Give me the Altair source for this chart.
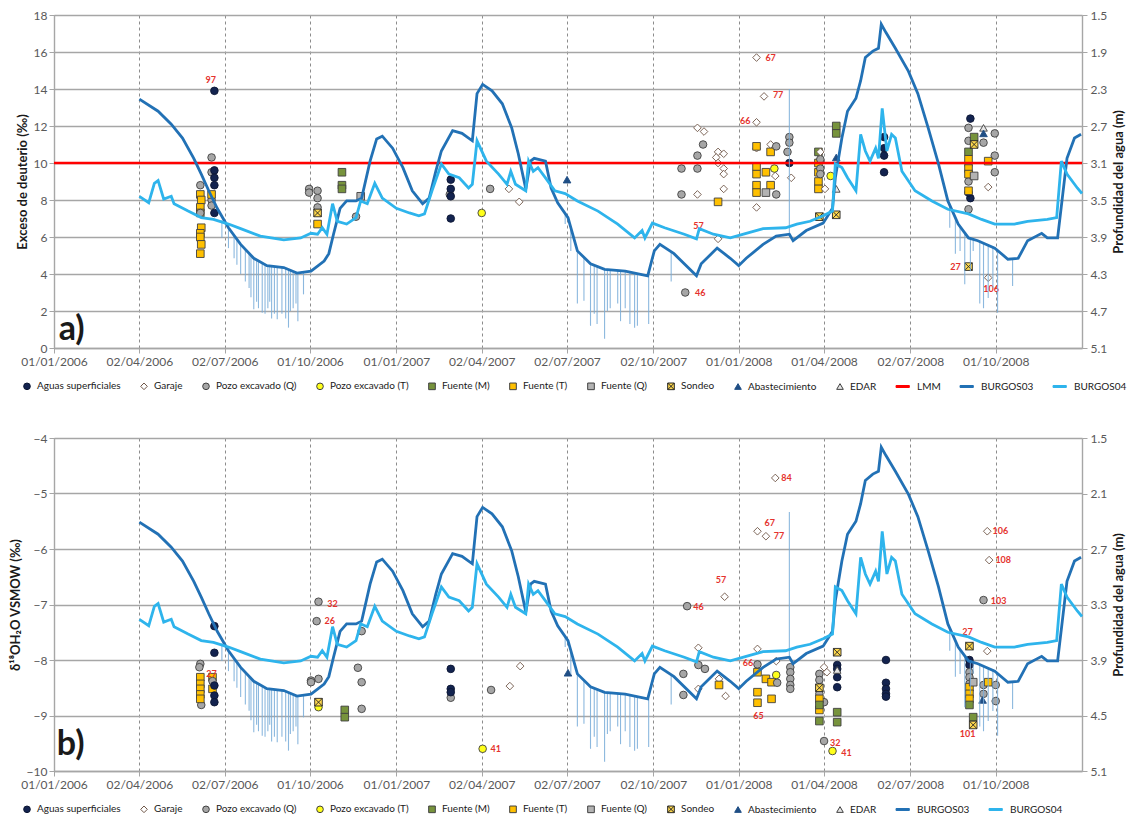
import altair as alt
import pandas as pd

# ---------------- categorías ----------------
TIPOS_A = ["Aguas superficiales", "Garaje", "Pozo excavado (Q)", "Pozo excavado (T)",
           "Fuente (M)", "Fuente (T)", "Fuente (Q)", "Sondeo", "Abastecimiento", "EDAR",
           "LMM", "BURGOS03", "BURGOS04"]
TIPOS_B = [t for t in TIPOS_A if t != "LMM"]
CODIGO = {"AS": "Aguas superficiales", "G": "Garaje", "PQ": "Pozo excavado (Q)",
          "PT": "Pozo excavado (T)", "FM": "Fuente (M)", "FT": "Fuente (T)",
          "FQ": "Fuente (Q)", "S": "Sondeo", "AB": "Abastecimiento", "ED": "EDAR"}

TICKS_X = ["01/01/2006", "02/04/2006", "02/07/2006", "01/10/2006", "01/01/2007",
           "02/04/2007", "02/07/2007", "02/10/2007", "01/01/2008", "01/04/2008",
           "02/07/2008", "01/10/2008"]

# ---------------- piezómetros (profundidad del agua, m) ----------------
B03_FECHA = ["2006-04-02", "2006-04-22", "2006-05-06", "2006-05-18", "2006-05-30", "2006-06-07",
             "2006-06-15", "2006-06-24", "2006-07-06", "2006-07-19", "2006-08-02", "2006-08-16",
             "2006-09-03", "2006-09-17", "2006-10-02", "2006-10-16", "2006-10-21", "2006-10-26",
             "2006-11-02", "2006-11-09", "2006-11-19", "2006-11-25", "2006-12-04", "2006-12-11",
             "2006-12-17", "2006-12-28", "2007-01-08", "2007-01-18", "2007-01-29", "2007-02-05",
             "2007-02-12", "2007-02-18", "2007-03-02", "2007-03-12", "2007-03-23", "2007-03-28",
             "2007-04-03", "2007-04-13", "2007-04-24", "2007-05-04", "2007-05-11", "2007-05-19",
             "2007-05-24", "2007-05-28", "2007-06-09", "2007-06-15", "2007-06-22", "2007-07-03",
             "2007-07-13", "2007-07-27", "2007-08-11", "2007-09-02", "2007-09-26", "2007-10-03",
             "2007-10-09", "2007-10-24", "2007-11-17", "2007-11-22", "2007-12-09", "2007-12-23",
             "2008-01-01", "2008-01-09", "2008-01-27", "2008-02-10", "2008-02-24", "2008-02-28",
             "2008-03-13", "2008-03-31", "2008-04-10", "2008-04-13", "2008-04-20", "2008-04-26",
             "2008-05-05", "2008-05-10", "2008-05-15", "2008-05-23", "2008-05-29", "2008-06-01",
             "2008-06-06", "2008-06-16", "2008-06-30", "2008-07-10", "2008-07-21", "2008-08-01",
             "2008-08-11", "2008-08-22", "2008-09-02", "2008-09-12", "2008-09-30", "2008-10-14",
             "2008-10-25", "2008-11-04", "2008-11-19", "2008-11-25", "2008-12-06", "2008-12-11",
             "2008-12-16", "2008-12-24", "2008-12-31"]
B03_PROF = [2.41, 2.54, 2.68, 2.83, 3.05, 3.22,
            3.40, 3.59, 3.80, 3.98, 4.13, 4.21,
            4.23, 4.29, 4.27, 4.16, 4.08, 3.87,
            3.59, 3.51, 3.51, 3.48, 3.08, 2.84,
            2.81, 2.94, 3.15, 3.40, 3.54, 3.48,
            3.19, 2.97, 2.75, 2.78, 2.86, 2.35,
            2.25, 2.32, 2.46, 2.72, 3.00, 3.38,
            3.08, 3.05, 3.08, 3.37, 3.53, 3.69,
            4.05, 4.19, 4.25, 4.27, 4.32, 4.05,
            3.98, 4.08, 4.32, 4.19, 4.02, 4.13,
            4.21, 4.13, 3.98, 3.89, 3.87, 3.94,
            3.83, 3.75, 3.59, 3.26, 2.83, 2.54,
            2.40, 2.21, 1.96, 1.89, 1.86, 1.60,
            1.69, 1.86, 2.11, 2.35, 2.72, 3.11,
            3.51, 3.76, 3.91, 3.94, 4.02, 4.14,
            4.13, 3.94, 3.86, 3.91, 3.91, 3.48,
            3.05, 2.83, 2.79]

B04_FECHA = ["2006-04-02", "2006-04-12", "2006-04-18", "2006-04-22", "2006-04-28", "2006-05-06",
             "2006-05-09", "2006-05-24", "2006-06-07", "2006-06-20", "2006-07-06", "2006-07-19",
             "2006-08-09", "2006-09-03", "2006-09-21", "2006-10-02", "2006-10-09", "2006-10-14",
             "2006-10-19", "2006-10-25", "2006-10-30", "2006-11-09", "2006-11-19", "2006-11-24",
             "2006-12-01", "2006-12-09", "2006-12-17", "2007-01-01", "2007-01-15", "2007-01-25",
             "2007-01-31", "2007-02-08", "2007-02-18", "2007-02-26", "2007-03-09", "2007-03-19",
             "2007-03-23", "2007-03-28", "2007-04-07", "2007-04-20", "2007-04-29", "2007-05-03",
             "2007-05-08", "2007-05-19", "2007-05-22", "2007-05-27", "2007-06-01", "2007-06-09",
             "2007-06-19", "2007-06-30", "2007-07-13", "2007-08-04", "2007-08-25", "2007-09-12",
             "2007-09-20", "2007-09-23", "2007-10-01", "2007-10-14", "2007-11-04", "2007-11-17",
             "2007-11-20", "2007-12-05", "2007-12-23", "2008-01-09", "2008-01-27", "2008-02-20",
             "2008-03-03", "2008-03-17", "2008-03-31", "2008-04-10", "2008-04-13", "2008-04-20",
             "2008-04-26", "2008-05-05", "2008-05-10", "2008-05-15", "2008-05-20", "2008-05-26",
             "2008-05-29", "2008-06-02", "2008-06-07", "2008-06-12", "2008-06-16", "2008-06-23",
             "2008-07-07", "2008-07-25", "2008-08-11", "2008-09-02", "2008-09-16", "2008-09-30",
             "2008-10-21", "2008-11-04", "2008-11-25", "2008-12-05", "2008-12-10", "2008-12-16",
             "2008-12-27", "2009-01-01"]
B04_PROF = [3.46, 3.53, 3.32, 3.29, 3.49, 3.46,
            3.54, 3.62, 3.69, 3.71, 3.76, 3.81,
            3.89, 3.93, 3.91, 3.86, 3.87, 3.80,
            3.87, 3.54, 3.73, 3.76, 3.69, 3.51,
            3.54, 3.32, 3.48, 3.59, 3.64, 3.67,
            3.65, 3.40, 3.11, 3.22, 3.26, 3.37,
            3.33, 2.86, 3.08, 3.22, 3.33, 3.19,
            3.33, 3.40, 3.08, 3.19, 3.15, 3.26,
            3.40, 3.43, 3.51, 3.62, 3.76, 3.91,
            3.83, 3.91, 3.75, 3.80, 3.87, 3.92,
            3.81, 3.87, 3.91, 3.86, 3.81, 3.80,
            3.76, 3.73, 3.67, 3.62, 3.11, 3.15,
            3.26, 3.40, 2.79, 2.97, 3.08, 2.94,
            3.05, 2.51, 2.97, 2.79, 2.83, 3.19,
            3.40, 3.51, 3.60, 3.65, 3.71, 3.76,
            3.76, 3.73, 3.71, 3.69, 3.08, 3.22,
            3.37, 3.43]

# picos de bombeo en BURGOS03 (fecha, nivel base, nivel alcanzado)
SPK_FECHA = ["2006-06-29", "2006-07-06", "2006-07-12", "2006-07-15", "2006-07-19", "2006-07-24",
             "2006-07-28", "2006-07-30", "2006-08-02", "2006-08-05", "2006-08-07", "2006-08-11",
             "2006-08-14", "2006-08-17", "2006-08-19", "2006-08-21", "2006-08-24", "2006-08-27",
             "2006-09-01", "2006-09-05", "2006-09-08", "2006-09-10", "2006-09-13", "2006-09-16",
             "2006-09-18", "2006-09-24",
             "2007-06-30", "2007-07-06", "2007-07-13", "2007-07-20", "2007-07-27", "2007-07-31",
             "2007-08-03", "2007-08-11", "2007-08-14", "2007-08-17", "2007-08-25", "2007-08-28",
             "2007-09-02", "2007-09-07", "2007-09-12", "2007-09-15", "2007-09-27", "2007-10-21",
             "2008-02-24",
             "2008-08-13", "2008-08-19", "2008-08-24", "2008-08-29", "2008-09-04", "2008-09-07",
             "2008-09-14", "2008-09-18", "2008-09-23", "2008-09-28", "2008-10-03", "2008-10-19"]
SPK_BASE = [3.72, 3.80, 3.88, 3.93, 3.98, 4.03,
            4.07, 4.10, 4.13, 4.15, 4.16, 4.18,
            4.20, 4.21, 4.21, 4.21, 4.22, 4.22,
            4.23, 4.24, 4.25, 4.26, 4.27, 4.29,
            4.29, 4.28,
            3.65, 3.80, 4.05, 4.12, 4.19, 4.20,
            4.21, 4.25, 4.25, 4.25, 4.26, 4.26,
            4.27, 4.28, 4.29, 4.30, 4.32, 4.06,
            3.87,
            3.56, 3.68, 3.78, 3.85, 3.91, 3.92,
            3.94, 3.96, 3.98, 4.00, 4.04, 4.14]
SPK_FONDO = [3.91, 4.02, 4.13, 4.20, 4.30, 4.38,
             4.45, 4.55, 4.68, 4.60, 4.67, 4.72,
             4.73, 4.67, 4.60, 4.78, 4.73, 4.79,
             4.73, 4.78, 4.88, 4.70, 4.67, 4.62,
             4.81, 4.52,
             3.76, 4.05, 4.62, 4.59, 4.86, 4.73,
             4.84, 5.00, 4.70, 4.67, 4.62, 4.81,
             4.67, 4.84, 4.88, 4.86, 4.84, 4.38,
             2.30,
             3.80, 4.08, 4.05, 4.41, 4.27, 4.05,
             4.62, 4.67, 4.56, 4.45, 4.72, 4.43]

LMM_FECHA = ["2006-01-01", "2009-01-01"]
LMM_VALOR = [10, 10]

# ---------------- panel a) exceso de deuterio ----------------
A_FECHA = ["2006-06-06", "2006-06-07", "2006-06-06", "2006-06-06", "2006-06-07", "2006-06-06",
           "2006-06-06", "2006-06-07", "2006-06-06", "2006-06-06", "2006-06-06",
           "2006-06-18", "2006-06-18", "2006-06-18", "2006-06-18", "2006-06-18",
           "2006-06-21", "2006-06-21", "2006-06-21", "2006-06-21", "2006-06-21",
           "2006-09-30", "2006-09-30", "2006-10-09", "2006-10-09", "2006-10-09", "2006-10-09",
           "2006-10-09", "2006-11-04", "2006-11-04", "2006-11-04", "2006-11-19", "2006-11-24",
           "2007-02-27", "2007-02-28", "2007-02-28", "2007-02-28", "2007-02-28",
           "2007-04-02", "2007-04-11", "2007-05-01", "2007-05-12", "2007-07-02",
           "2007-11-01", "2007-11-01", "2007-11-05", "2007-11-18", "2007-11-18", "2007-11-24",
           "2007-11-18", "2007-11-18", "2007-11-25", "2007-12-10", "2007-12-08", "2007-12-10",
           "2007-12-16", "2007-12-16", "2007-12-16", "2007-12-16", "2007-12-10", "2007-12-10",
           "2008-01-20", "2008-01-28", "2008-01-20", "2008-01-20", "2008-01-20", "2008-02-04",
           "2008-02-09", "2008-02-26",
           "2008-01-20", "2008-01-20", "2008-01-20", "2008-01-20", "2008-01-20", "2008-01-30",
           "2008-02-04", "2008-02-04", "2008-01-30",
           "2008-02-10", "2008-02-10", "2008-02-24", "2008-02-24", "2008-02-22", "2008-02-08",
           "2008-02-24",
           "2008-03-26", "2008-03-26", "2008-03-26", "2008-03-26", "2008-03-26",
           "2008-03-28", "2008-03-28", "2008-03-28", "2008-03-28", "2008-04-02", "2008-04-08",
           "2008-03-27", "2008-04-14", "2008-04-14", "2008-04-14", "2008-04-14", "2008-04-14",
           "2008-06-04", "2008-06-04", "2008-06-04", "2008-06-04",
           "2008-09-04", "2008-09-04", "2008-09-02", "2008-09-02", "2008-09-02", "2008-09-02",
           "2008-09-02", "2008-09-02", "2008-09-08", "2008-09-02", "2008-09-02", "2008-09-02",
           "2008-09-02", "2008-09-02", "2008-09-08", "2008-09-08", "2008-09-02",
           "2008-09-18", "2008-09-18", "2008-09-18", "2008-09-30", "2008-09-30", "2008-09-30",
           "2008-09-23", "2008-09-23", "2008-09-23"]
A_TIPO = ["FT", "FT", "FT", "FT", "FT", "FT",
          "FT", "FT", "FT", "PQ", "PQ",
          "PQ", "PQ", "PQ", "PQ", "FT",
          "AS", "AS", "AS", "AS", "AS",
          "PQ", "PQ", "PQ", "PQ", "PQ", "S",
          "FT", "FM", "FM", "FM", "PQ", "FQ",
          "PQ", "AS", "AS", "AS", "AS",
          "PT", "PQ", "G", "G", "AB",
          "PQ", "PQ", "PQ", "PQ", "PQ", "PQ",
          "G", "G", "G", "G", "G", "G",
          "G", "G", "G", "G", "G", "FT",
          "G", "G", "G", "G", "G", "G",
          "G", "G",
          "FT", "FT", "FT", "FT", "FT", "FT",
          "FT", "FT", "FQ",
          "PQ", "PQ", "PQ", "PQ", "PQ", "PT",
          "AS",
          "FM", "FT", "FT", "FT", "FT",
          "PQ", "PQ", "PQ", "G", "G", "PT",
          "S", "S", "FM", "FM", "AB", "ED",
          "AS", "AS", "AS", "AS",
          "AS", "AS", "AS", "PQ", "PQ", "PQ",
          "PQ", "PQ", "FM", "FM", "FT", "FT",
          "FT", "FT", "FQ", "S", "S",
          "ED", "AB", "PQ", "PQ", "PQ", "PQ",
          "FT", "G", "G"]
A_VALOR = [8.3, 8.0, 7.6, 7.3, 6.5, 6.2,
           6.0, 5.6, 5.1, 8.8, 7.3,
           10.3, 9.5, 8.0, 7.7, 8.3,
           13.9, 9.6, 9.2, 8.8, 7.3,
           8.6, 8.4, 8.5, 8.1, 7.6, 7.3,
           6.7, 9.5, 8.8, 8.6, 7.1, 8.2,
           8.3, 9.1, 8.6, 8.2, 7.0,
           7.3, 8.6, 8.6, 7.9, 9.1,
           9.7, 8.3, 3.0, 10.4, 9.7, 11.0,
           11.9, 8.3, 11.7, 10.6, 10.3, 10.0,
           10.5, 9.7, 9.4, 8.6, 5.9, 7.9,
           15.7, 13.6, 12.2, 10.8, 7.6, 11.0,
           9.3, 9.2,
           10.9, 9.8, 9.4, 8.8, 8.4, 9.5,
           10.6, 8.8, 8.4,
           10.9, 8.3, 11.4, 11.1, 10.6, 9.7,
           10.0,
           10.6, 10.0, 9.5, 9.0, 8.6,
           10.2, 9.7, 9.4, 10.6, 8.6, 9.3,
           7.1, 7.2, 12.0, 11.6, 10.3, 8.6,
           11.4, 10.8, 10.4, 9.5,
           12.4, 8.1, 8.4, 11.9, 11.2, 9.9,
           9.0, 7.5, 11.4, 10.6, 10.2, 9.7,
           9.4, 8.5, 9.3, 11.0, 4.4,
           11.9, 11.6, 11.1, 11.6, 10.4, 9.5,
           10.1, 8.7, 3.8]

A_ETQ_TEXTO = ["97", "67", "77", "66", "57", "46", "27", "106"]
A_ETQ_FECHA = ["2006-06-17", "2008-02-04", "2008-02-12", "2008-01-08", "2007-11-19",
               "2007-11-21", "2008-08-19", "2008-09-26"]
A_ETQ_VALOR = [14.5, 15.7, 13.7, 12.25, 6.6, 3.0, 4.4, 3.2]

# ---------------- panel b) δ18O ----------------
B_FECHA = ["2006-06-06", "2006-06-05", "2006-06-07", "2006-06-06", "2006-06-06", "2006-06-06",
           "2006-06-06", "2006-06-06", "2006-06-19", "2006-06-19", "2006-06-19",
           "2006-06-21", "2006-06-21", "2006-06-21", "2006-06-21", "2006-06-21",
           "2006-10-10", "2006-10-08", "2006-10-10", "2006-10-02", "2006-10-02", "2006-10-10",
           "2006-10-10", "2006-11-07", "2006-11-07", "2006-11-21", "2006-11-25", "2006-11-25",
           "2006-11-25",
           "2007-02-28", "2007-02-28", "2007-02-28", "2007-02-28", "2007-04-03", "2007-04-12",
           "2007-05-02", "2007-05-13", "2007-07-03",
           "2007-11-07", "2007-11-03", "2007-11-03", "2007-11-19", "2007-11-26", "2007-11-19",
           "2007-11-19", "2007-12-17", "2007-12-11", "2007-12-18", "2007-12-11",
           "2008-02-09", "2008-01-21", "2008-01-30", "2008-01-21", "2008-02-10", "2008-01-21",
           "2008-01-21", "2008-01-21", "2008-01-21", "2008-01-30", "2008-02-05", "2008-02-05",
           "2008-02-10", "2008-02-11", "2008-02-25", "2008-02-25", "2008-02-25", "2008-02-25",
           "2008-02-25",
           "2008-03-27", "2008-03-27", "2008-03-27", "2008-04-01", "2008-04-01", "2008-04-04",
           "2008-03-27", "2008-03-27", "2008-03-27", "2008-03-27", "2008-03-27", "2008-04-01",
           "2008-04-10", "2008-04-15", "2008-04-15", "2008-04-15", "2008-04-15", "2008-04-15",
           "2008-04-15", "2008-04-15", "2008-04-15",
           "2008-06-06", "2008-06-06", "2008-06-06", "2008-06-06", "2008-06-06",
           "2008-09-03", "2008-09-03", "2008-09-03", "2008-09-03", "2008-09-03", "2008-09-03",
           "2008-09-03", "2008-09-03", "2008-09-03", "2008-09-03", "2008-09-07", "2008-09-07",
           "2008-09-07", "2008-09-18", "2008-09-18", "2008-10-01", "2008-10-01", "2008-09-17",
           "2008-09-23", "2008-09-22", "2008-09-24", "2008-09-22", "2008-09-18"]
B_TIPO = ["PQ", "PQ", "PQ", "FT", "FT", "FT",
          "FT", "FT", "FT", "FT", "PQ",
          "AS", "AS", "AS", "AS", "AS",
          "PQ", "PQ", "PQ", "PQ", "PQ", "PT",
          "S", "FM", "FM", "PQ", "PQ", "PQ",
          "PQ",
          "PQ", "AS", "AS", "AS", "PT", "PQ",
          "G", "G", "AB",
          "PQ", "PQ", "PQ", "PQ", "PQ", "G",
          "G", "G", "G", "G", "FT",
          "G", "G", "G", "G", "G", "PQ",
          "FT", "FT", "FT", "FT", "FT", "FT",
          "PT", "PQ", "PQ", "PQ", "PQ", "PQ",
          "PQ",
          "PQ", "PQ", "PQ", "PQ", "G", "G",
          "S", "FT", "FT", "FM", "FM", "PQ",
          "PT", "S", "AS", "AS", "AS", "AS",
          "ED", "FM", "FM",
          "AS", "AS", "AS", "AS", "AS",
          "S", "AS", "AS", "PQ", "PQ", "PQ",
          "FT", "FT", "FT", "FM", "FM", "S",
          "FQ", "PQ", "PQ", "PQ", "PQ", "AB",
          "FT", "G", "G", "G", "PQ"]
B_VALOR = [-8.07, -8.13, -8.81, -8.31, -8.43, -8.52,
           -8.62, -8.70, -8.31, -8.52, -8.38,
           -7.39, -7.87, -8.46, -8.64, -8.76,
           -6.95, -7.30, -8.34, -8.37, -8.40, -8.85,
           -8.76, -8.90, -9.03, -8.14, -7.48, -8.40,
           -8.88,
           -8.68, -8.16, -8.52, -8.58, -9.60, -8.54,
           -8.47, -8.11, -8.23,
           -7.03, -8.25, -8.63, -8.09, -8.16, -7.78,
           -8.52, -6.86, -8.34, -8.65, -8.45,
           -4.72, -5.68, -5.77, -7.80, -8.02, -8.08,
           -8.22, -8.58, -8.77, -8.34, -8.40, -8.70,
           -8.27, -8.41, -8.13, -8.22, -8.34, -8.45,
           -8.52,
           -8.25, -8.36, -8.61, -8.76, -8.13, -8.22,
           -8.50, -8.70, -8.90, -8.81, -9.10, -9.46,
           -9.64, -7.86, -8.09, -8.16, -8.31, -8.49,
           -8.18, -8.94, -9.12,
           -8.00, -8.41, -8.52, -8.61, -8.66,
           -7.75, -8.00, -8.09, -8.22, -8.31, -8.43,
           -8.49, -8.61, -8.70, -8.81, -9.03, -9.17,
           -8.40, -8.45, -8.61, -8.45, -8.74, -8.72,
           -8.40, -5.68, -6.20, -7.84, -6.92]

B_ETQ_TEXTO = ["27", "32", "26", "41", "46", "57", "67", "77", "84", "66", "65", "32", "41",
               "27", "101", "106", "108", "103"]
B_ETQ_FECHA = ["2006-06-18", "2006-10-25", "2006-10-22", "2007-04-17", "2007-11-19",
               "2007-12-13", "2008-02-03", "2008-02-13", "2008-02-21", "2008-01-11",
               "2008-01-22", "2008-04-13", "2008-04-25", "2008-09-01", "2008-09-01",
               "2008-10-06", "2008-10-09", "2008-10-04"]
B_ETQ_VALOR = [-8.25, -6.99, -7.30, -9.60, -7.04, -6.55, -5.53, -5.77, -4.72, -8.05,
               -9.01, -9.50, -9.68, -7.50, -9.33, -5.68, -6.20, -6.94]

PANEL_TEXTO = ["a)", "b)"]
PANEL_FECHA = ["2006-01-06", "2006-01-04"]
PANEL_VALOR = [0.45, -9.72]

# ---------------- estilos ----------------
RELLENO = {"Aguas superficiales": "#13234f", "Garaje": "#ffffff", "Pozo excavado (Q)": "#a6a6a6",
           "Pozo excavado (T)": "#ffff1a", "Fuente (M)": "#77933c", "Fuente (T)": "#ffc000",
           "Fuente (Q)": "#b3b3b3", "Sondeo": "#ffd84d", "Abastecimiento": "#1f4e85",
           "EDAR": "#e6e6e6", "LMM": "#ff0000", "BURGOS03": "#2271b5", "BURGOS04": "#2eb4ec"}
BORDE = {"Aguas superficiales": "#0c1633", "Garaje": "#6e5546", "Pozo excavado (Q)": "#404040",
         "Pozo excavado (T)": "#404040", "Fuente (M)": "#404040", "Fuente (T)": "#404040",
         "Fuente (Q)": "#404040", "Sondeo": "#262626", "Abastecimiento": "#1f4e85",
         "EDAR": "#404040", "LMM": "#ff0000", "BURGOS03": "#2271b5", "BURGOS04": "#2eb4ec"}
LINEA = "M-3.3,-0.3H0.7V0.3H-3.3Z"
FORMA = {"Aguas superficiales": "circle", "Garaje": "diamond", "Pozo excavado (Q)": "circle",
         "Pozo excavado (T)": "circle", "Fuente (M)": "square", "Fuente (T)": "square",
         "Fuente (Q)": "square", "Sondeo": "M-1,-1H1V1H-1ZM-1,-1L1,1M1,-1L-1,1",
         "Abastecimiento": "triangle-up", "EDAR": "triangle-up",
         "LMM": LINEA, "BURGOS03": LINEA, "BURGOS04": LINEA}

FONT = "Lato"
GRIS = "#a6a6a6"
ANCHO = 1028
ALTO = 333


def fechas(lista):
    return pd.to_datetime(pd.Series(lista))


def dt(s):
    return alt.DateTime(year=int(s[6:]), month=int(s[3:5]), date=int(s[:2]))


def eje_x():
    return alt.X("fecha:T",
                 scale=alt.Scale(domain=[alt.DateTime(year=2006, month=1, date=1),
                                         alt.DateTime(year=2009, month=1, date=1)]),
                 axis=alt.Axis(values=[dt(s) for s in TICKS_X], format="%d/%m/%Y", title=None,
                               grid=True, gridDash=[3, 3], gridColor="#8c8c8c", gridWidth=1,
                               labelAngle=0, labelFontSize=12, labelColor="#595959",
                               tickColor=GRIS, tickSize=5, domainColor=GRIS, domainWidth=1.4,
                               labelOverlap=False, labelFlush=False, labelPadding=3,
                               labelFont=FONT))


def eje_izq(dominio, valores, titulo):
    return alt.Y("valor:Q", scale=alt.Scale(domain=dominio, nice=False, zero=False),
                 axis=alt.Axis(orient="left", values=valores, title=titulo, grid=True,
                               gridColor=GRIS, gridWidth=1.4, labelFontSize=12,
                               labelColor="#595959", tickColor=GRIS, tickSize=5,
                               domainColor=GRIS, domainWidth=1.4, titleFontSize=13,
                               titleFontWeight="bold", titleColor="#1a1a1a", titlePadding=4,
                               labelPadding=2, labelFont=FONT, titleFont=FONT))


def eje_der(valores):
    return alt.Y("prof:Q", scale=alt.Scale(domain=[1.5, 5.1], reverse=True, nice=False, zero=False),
                 axis=alt.Axis(orient="right", values=valores, format=".1f",
                               title="Profundidad del agua (m)", titleAngle=270,
                               titleBaseline="middle", titleAlign="center",
                               titleX=36, titleY=ALTO / 2, grid=False, labelFontSize=12,
                               labelColor="#595959", tickColor=GRIS, tickSize=5,
                               domainColor=GRIS, domainWidth=1.4, titleFontSize=13,
                               titleFontWeight="bold", titleColor="#1a1a1a",
                               labelPadding=3, labelFont=FONT, titleFont=FONT))


def escalas(tipos):
    return (alt.Scale(domain=tipos, range=[RELLENO[t] for t in tipos]),
            alt.Scale(domain=tipos, range=[BORDE[t] for t in tipos]),
            alt.Scale(domain=tipos, range=[FORMA[t] for t in tipos]))


def leyenda(n):
    return alt.Legend(title=None, orient="none", legendX=-32, legendY=366,
                      direction="horizontal", columns=n, columnPadding=17,
                      labelFontSize=10, labelColor="#1a1a1a", labelFont=FONT,
                      symbolSize=44, symbolStrokeWidth=1, labelOffset=5, padding=0,
                      symbolOpacity=1)


df_b03 = pd.DataFrame({"fecha": fechas(B03_FECHA), "prof": B03_PROF, "tipo": "BURGOS03"})
df_b04 = pd.DataFrame({"fecha": fechas(B04_FECHA), "prof": B04_PROF, "tipo": "BURGOS04"})
df_spk = pd.DataFrame({"fecha": fechas(SPK_FECHA), "prof": SPK_BASE, "fondo": SPK_FONDO})
df_lmm = pd.DataFrame({"fecha": fechas(LMM_FECHA), "valor": LMM_VALOR, "tipo": "LMM"})


def panel(tipos, f, t, v, ef, et, ev, letra_idx, dominio, valores, titulo, valores_der, lmm):
    sf, ss, sh = escalas(tipos)
    leg = leyenda(len(tipos))
    pts = pd.DataFrame({"fecha": fechas(f), "tipo": [CODIGO[c] for c in t], "valor": v})
    etq = pd.DataFrame({"fecha": fechas(ef), "texto": et, "valor": ev})
    let = pd.DataFrame({"fecha": fechas([PANEL_FECHA[letra_idx]]),
                        "texto": [PANEL_TEXTO[letra_idx]], "valor": [PANEL_VALOR[letra_idx]]})
    X = eje_x()
    Yl = eje_izq(dominio, valores, titulo)
    Yr = eje_der(valores_der)

    capa_pts = alt.Chart(pts).mark_point(filled=True, size=58, strokeWidth=0.9, opacity=1).encode(
        x=X, y=Yl,
        fill=alt.Fill("tipo:N", scale=sf, legend=leg),
        stroke=alt.Stroke("tipo:N", scale=ss, legend=leg),
        shape=alt.Shape("tipo:N", scale=sh, legend=leg),
    )
    capas_izq = [capa_pts]
    if lmm:
        capas_izq.append(alt.Chart(df_lmm).mark_line(strokeWidth=2.3).encode(
            x=X, y=Yl, stroke=alt.Stroke("tipo:N", scale=ss, legend=None)))
    capas_izq.append(alt.Chart(etq).mark_text(color="#e5322d", fontWeight="bold", fontSize=9,
                                              font=FONT).encode(x=X, y=Yl, text="texto:N"))
    capas_izq.append(alt.Chart(let).mark_text(color="#1a1a1a", fontWeight="bold", fontSize=34,
                                              font=FONT, align="left", baseline="alphabetic")
                     .encode(x=X, y=Yl, text="texto:N"))
    izq = alt.layer(*capas_izq)

    spk = alt.Chart(df_spk).mark_rule(color="#78acd8", strokeWidth=1.1, opacity=0.85).encode(
        x=X, y=Yr, y2="fondo:Q")
    l03 = alt.Chart(df_b03).mark_line(strokeWidth=2.8).encode(
        x=X, y=Yr, stroke=alt.Stroke("tipo:N", scale=ss, legend=None))
    l04 = alt.Chart(df_b04).mark_line(strokeWidth=2.8).encode(
        x=X, y=Yr, stroke=alt.Stroke("tipo:N", scale=ss, legend=None))
    der = alt.layer(spk, l03, l04)

    return alt.layer(izq, der).resolve_scale(y="independent").properties(width=ANCHO, height=ALTO)


panel_a = panel(TIPOS_A, A_FECHA, A_TIPO, A_VALOR, A_ETQ_FECHA, A_ETQ_TEXTO, A_ETQ_VALOR, 0,
                [0, 18], [0, 2, 4, 6, 8, 10, 12, 14, 16, 18], "Exceso de deuterio (‰)",
                [1.5, 1.9, 2.3, 2.7, 3.1, 3.5, 3.9, 4.3, 4.7, 5.1], True)
panel_b = panel(TIPOS_B, B_FECHA, B_TIPO, B_VALOR, B_ETQ_FECHA, B_ETQ_TEXTO, B_ETQ_VALOR, 1,
                [-10, -4], [-10, -9, -8, -7, -6, -5, -4], "δ¹⁸OH₂O VSMOW (‰)",
                [1.5, 2.1, 2.7, 3.3, 3.9, 4.5, 5.1], False)

chart = alt.vconcat(panel_a, panel_b, spacing=38).resolve_scale(
    fill="independent", stroke="independent", shape="independent"
).resolve_legend(
    fill="independent", stroke="independent", shape="independent"
).properties(
    padding={"left": 0, "top": 0, "right": 0, "bottom": 0}, background="white"
).configure_view(stroke=None).configure(font=FONT)

chart.save("out.html", embed_options={"renderer": "svg", "actions": False})
